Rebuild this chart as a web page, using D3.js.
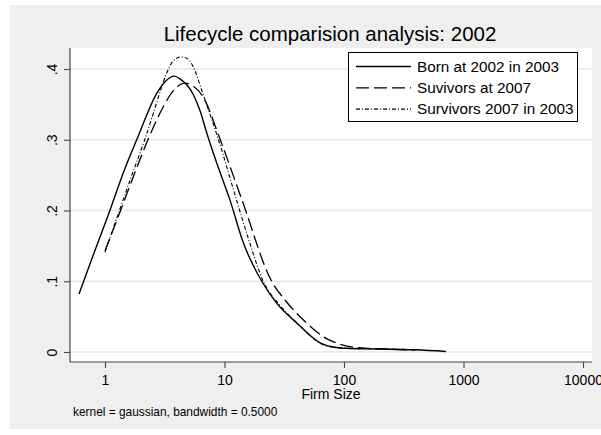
<!DOCTYPE html>
<html>
<head>
<meta charset="utf-8">
<script src="https://cdn.jsdelivr.net/npm/d3@7"></script>
<style>
  body { margin: 0; background: #fff; }
  text { font-family: "Liberation Sans", Arial, sans-serif; fill: #000; }
</style>
</head>
<body>
<div id="chart"></div>
<script>
/* CONSTANTS AND GLOBALS */
const width = 601,
  height = 435,
  plot = { left: 70, right: 592, top: 48, bottom: 362 };

/* DATA */
const title = "Lifecycle comparision analysis: 2002";
const xLabel = "Firm Size";
const note = "kernel = gaussian, bandwidth = 0.5000";
const xTicks = [1, 10, 100, 1000, 10000];
const yTicks = [0, 0.1, 0.2, 0.3, 0.4];
const yTickLabels = ["0", ".1", ".2", ".3", ".4"];
const seriesNames = ["Born at 2002 in 2003", "Suvivors at 2007", "Survivors 2007 in 2003"];

// [firm size, density]
const born2002 = [
  [0.606, 0.082], [0.809, 0.140], [1.093, 0.199], [1.45, 0.257], [1.853, 0.301],
  [2.72, 0.366], [3.18, 0.382], [3.80, 0.390], [4.24, 0.386], [5.48, 0.364],
  [6.24, 0.341], [7.18, 0.307], [8.61, 0.267], [11.1, 0.215], [14.4, 0.154],
  [20.5, 0.100], [27.3, 0.069], [40.2, 0.041], [63, 0.013], [81, 0.0071],
  [112, 0.0049], [200, 0.0042], [400, 0.0031], [713, 0.0007]
];
const survivors2007 = [
  [1.0, 0.143], [1.35, 0.200], [1.81, 0.257], [2.30, 0.301], [3.06, 0.346],
  [3.85, 0.372], [4.67, 0.380], [5.32, 0.377], [6.65, 0.360], [9.17, 0.301],
  [14.0, 0.215], [24.8, 0.100], [32.1, 0.0735], [48.7, 0.041], [67.1, 0.0216],
  [80.9, 0.0146], [112, 0.0075], [150, 0.0054], [200, 0.0043], [400, 0.003]
];
const survivors2007in2003 = [
  [1.0, 0.141], [1.32, 0.200], [1.71, 0.254], [2.12, 0.297], [2.47, 0.331],
  [2.83, 0.363], [3.24, 0.392], [3.71, 0.411], [4.33, 0.417], [4.95, 0.414],
  [5.55, 0.401], [6.45, 0.370], [7.56, 0.336], [8.87, 0.301], [12.6, 0.215],
  [16.0, 0.158], [21.1, 0.100], [29.1, 0.066], [41.2, 0.040], [65.5, 0.011],
  [92.6, 0.0057], [200, 0.0045], [433, 0.0031]
];

const series = [
  { name: seriesNames[0], values: born2002, dash: null, w: 1.4 },
  { name: seriesNames[1], values: survivors2007, dash: "13,5", w: 1.3 },
  { name: seriesNames[2], values: survivors2007in2003, dash: "4,2,1,2", w: 1.1 }
];

/* SVG */
const svg = d3.select("#chart")
  .append("svg")
  .attr("width", width)
  .attr("height", height);

// graph region (gray) and plot region (white)
svg.append("rect")
  .attr("x", 10).attr("y", 5)
  .attr("width", width - 10).attr("height", 424)
  .attr("fill", "#efefef");

svg.append("rect")
  .attr("x", plot.left).attr("y", plot.top)
  .attr("width", plot.right - plot.left).attr("height", plot.bottom - plot.top)
  .attr("fill", "#fff");

/* SCALES */
const xScale = d3.scaleLog()
  .domain([1, 10000])
  .range([105, 583]);

const yScale = d3.scaleLinear()
  .domain([0, 0.4])
  .range([352, 69]);

// grid
svg.append("g")
  .selectAll("line")
  .data(yTicks)
  .join("line")
  .attr("x1", plot.left).attr("x2", plot.right)
  .attr("y1", d => yScale(d)).attr("y2", d => yScale(d))
  .attr("stroke", "#e6e6e6")
  .attr("stroke-width", 1.3);

/* AXES */
const xAxis = d3.axisBottom(xScale)
  .tickValues(xTicks)
  .tickFormat(d3.format("d"))
  .tickSize(6);

const xAxisGroup = svg.append("g")
  .attr("transform", `translate(0, ${plot.bottom})`)
  .call(xAxis);
xAxisGroup.select(".domain").remove();
xAxisGroup.selectAll("line").attr("stroke", "#444").attr("stroke-width", 1.1);
xAxisGroup.selectAll("text")
  .attr("y", 23).attr("dy", 0)
  .style("font-size", "14px")
  .style("font-family", "'Liberation Sans', Arial, sans-serif")
  .attr("fill", "#000");

const yAxis = d3.axisLeft(yScale)
  .tickValues(yTicks)
  .tickFormat((d, i) => yTickLabels[i])
  .tickSize(6);

const yAxisGroup = svg.append("g")
  .attr("transform", `translate(${plot.left}, 0)`)
  .call(yAxis);
yAxisGroup.select(".domain").remove();
yAxisGroup.selectAll("line").attr("stroke", "#444").attr("stroke-width", 1.1);
yAxisGroup.selectAll("text")
  .attr("transform", "rotate(-90)")
  .attr("x", 0).attr("y", -13).attr("dy", 0)
  .attr("text-anchor", "middle")
  .style("font-size", "14px")
  .style("font-family", "'Liberation Sans', Arial, sans-serif")
  .attr("fill", "#000");

// axis lines across the whole plot region
svg.append("line")
  .attr("x1", plot.left).attr("x2", plot.right)
  .attr("y1", plot.bottom).attr("y2", plot.bottom)
  .attr("stroke", "#444").attr("stroke-width", 1.2);
svg.append("line")
  .attr("x1", plot.left).attr("x2", plot.left)
  .attr("y1", plot.top).attr("y2", plot.bottom)
  .attr("stroke", "#444").attr("stroke-width", 1.2);

/* LINES */
const lineGen = d3.line()
  .x(d => xScale(d[0]))
  .y(d => yScale(d[1]))
  .curve(d3.curveMonotoneX);

svg.selectAll(".line")
  .data(series)
  .join("path")
  .attr("class", "line")
  .attr("fill", "none")
  .attr("stroke", "#000")
  .attr("stroke-width", d => d.w)
  .attr("stroke-dasharray", d => d.dash)
  .attr("d", d => lineGen(d.values));

/* LEGEND */
const legend = svg.append("g");
legend.append("rect")
  .attr("x", 348.5).attr("y", 52.5)
  .attr("width", 229).attr("height", 69)
  .attr("fill", "#fff")
  .attr("stroke", "#000")
  .attr("stroke-width", 1);

const rows = legend.selectAll(".row")
  .data(series)
  .join("g")
  .attr("class", "row")
  .attr("transform", (d, i) => `translate(0, ${66.5 + i * 21.3})`);

rows.append("line")
  .attr("x1", 356).attr("x2", 411)
  .attr("stroke", "#000")
  .attr("stroke-width", d => d.w)
  .attr("stroke-dasharray", d => d.dash);

rows.append("text")
  .attr("x", 417).attr("y", 5.3)
  .style("font-size", "15.3px")
  .text(d => d.name);

/* TITLES */
svg.append("text")
  .attr("x", 330).attr("y", 41)
  .attr("text-anchor", "middle")
  .style("font-size", "20.5px")
  .text(title);

svg.append("text")
  .attr("x", 331).attr("y", 399)
  .attr("text-anchor", "middle")
  .style("font-size", "14px")
  .text(xLabel);

svg.append("text")
  .attr("x", 73).attr("y", 416)
  .style("font-size", "11.9px")
  .text(note);
</script>
</body>
</html>
